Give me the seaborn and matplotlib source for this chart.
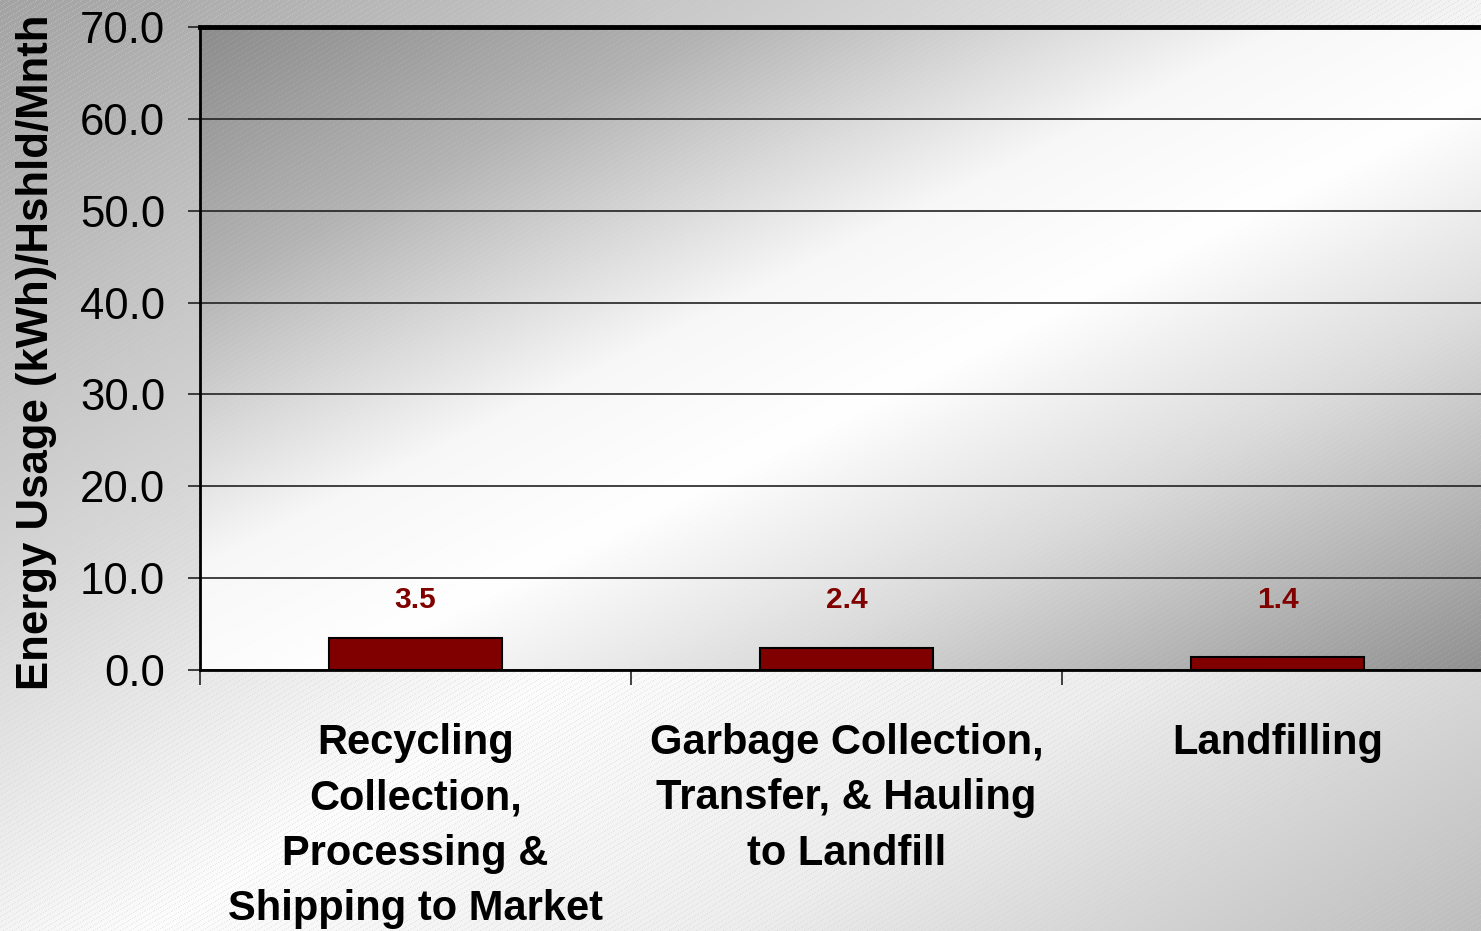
import numpy as np
import matplotlib
matplotlib.use("Agg")
import matplotlib.pyplot as plt
import seaborn as sns

# ---- data ----
categories = ["Recycling\nCollection,\nProcessing &\nShipping to Market",
              "Garbage Collection,\nTransfer, & Hauling\nto Landfill",
              "Landfilling"]
values = [3.5, 2.4, 1.4]
value_labels = ["3.5", "2.4", "1.4"]
y_ticks = [0, 10, 20, 30, 40, 50, 60, 70]
y_label = "Energy Usage (kWh)/Hshld/Mnth"

sns.set_theme(style="white")
plt.rcParams['font.family'] = ['Liberation Sans', 'DejaVu Sans']
plt.rcParams['text.color'] = 'black'
plt.rcParams['xtick.color'] = 'black'
plt.rcParams['ytick.color'] = 'black'
plt.rcParams['axes.labelcolor'] = 'black'

W, H = 1481, 931
fig = plt.figure(figsize=(W / 100, H / 100), dpi=100)


def gradient(h, w, stops_t, stops_v, hatch_strength=0.5, hatch_val=0.82, period=9.0, slope=1.7):
    ii, jj = np.mgrid[0:h, 0:w]
    t = (jj / w + ii / h) / 2.0
    g = np.interp(t, stops_t, stops_v)
    ph = np.mod(jj + slope * ii, period)
    line = (ph < 1.0).astype(float)
    g = g * (1 - hatch_strength * line) + hatch_val * hatch_strength * line
    rgb = np.dstack([g, g, g])
    rgb[..., 1] += 0.01 * line
    return np.clip(rgb, 0, 1)


# figure background
bg = gradient(H, W, [0.0, 0.35, 0.55, 0.75, 1.0], [0.64, 0.86, 0.99, 0.93, 0.74],
              hatch_strength=0.45, hatch_val=0.80)
bgax = fig.add_axes([0, 0, 1, 1], zorder=-10)
bgax.imshow(bg, aspect='auto', extent=[0, 1, 0, 1], interpolation='nearest')
bgax.axis('off')

# main axes
left = 200 / W
right = 1493 / W
bottom = (H - 670) / H
top = (H - 27) / H
ax = fig.add_axes([left, bottom, right - left, top - bottom])
ax.set_facecolor('none')

ph_, pw_ = 643, 1293
pbg = gradient(ph_, pw_, [0.0, 0.2, 0.42, 0.55, 0.72, 1.0], [0.55, 0.70, 0.97, 1.0, 0.86, 0.56],
               hatch_strength=0.12, hatch_val=0.9)
ax.imshow(pbg, extent=[0, 1, 0, 1], transform=ax.transAxes, aspect='auto', zorder=0,
          interpolation='bilinear')

sns.barplot(x=categories, y=values, ax=ax, width=0.4, color='#800000', saturation=1,
            edgecolor='black', linewidth=1.5, zorder=3)

ax.set_xlim(-0.5, 2.5)
ax.set_ylim(0, 70)
ax.set_yticks(y_ticks)
ax.set_yticklabels([f"{v:.1f}" for v in y_ticks])
ax.yaxis.grid(True, color='#222222', linewidth=1.2, zorder=1)
ax.set_axisbelow(True)

for i, lab in enumerate(value_labels):
    ax.text(i, 7.6, lab, ha='center', va='center', fontsize=21.5, fontweight='bold',
            color='#800000', zorder=5)

# ticks
ax.tick_params(axis='y', which='major', length=9, width=1.2, color='#222222',
               labelsize=31.5, pad=16, left=True, labelcolor='black')
ax.set_xticks(range(len(categories)))
ax.set_xticklabels(categories, fontsize=30, fontweight='bold', linespacing=1.5, color='black')
ax.tick_params(axis='x', which='major', length=0, pad=38)
ax.set_xticks([-0.5, 0.5, 1.5, 2.5], minor=True)
ax.tick_params(axis='x', which='minor', length=11, width=1.2, color='#222222', bottom=True)

ax.set_xlabel('')
ax.set_ylabel(y_label, fontsize=31.5, fontweight='bold', color='black')
ax.yaxis.label.set_va('center')
ax.yaxis.set_label_coords((36 - 200) / 1293, (670 - 352) / 643)

for s in ['left', 'bottom']:
    ax.spines[s].set_color('black')
    ax.spines[s].set_linewidth(2)
ax.spines['top'].set_color('black')
ax.spines['top'].set_linewidth(3.5)
ax.spines['right'].set_visible(False)
for s in ax.spines.values():
    s.set_zorder(6)

fig.savefig('out.png', dpi=100)
